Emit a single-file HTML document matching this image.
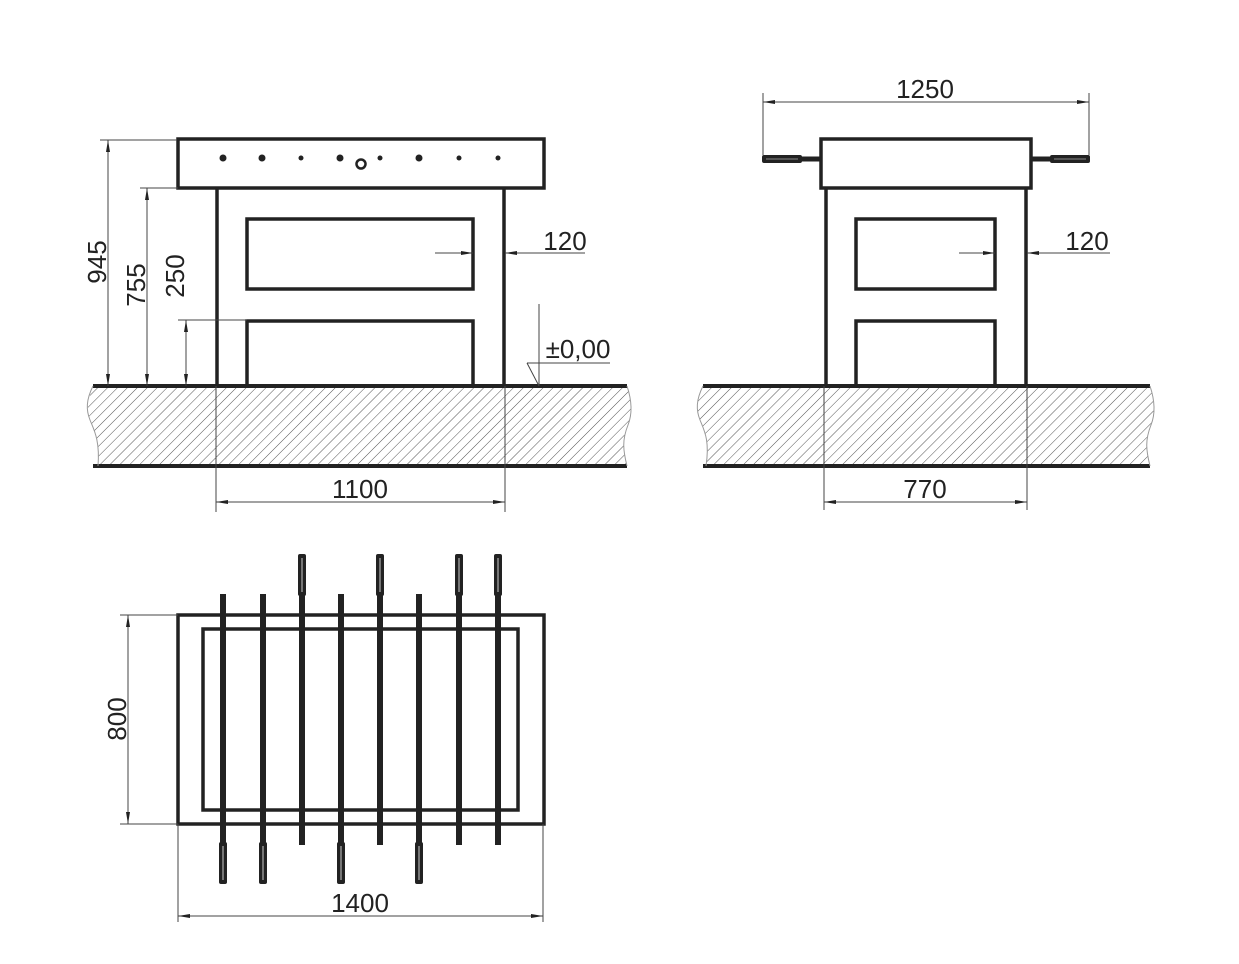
<!DOCTYPE html>
<html><head><meta charset="utf-8"><style>html,body{margin:0;padding:0;background:#fff}svg{display:block}</style></head>
<body>
<svg width="1239" height="964" viewBox="0 0 1239 964" xmlns="http://www.w3.org/2000/svg" font-family="Liberation Sans, Arial, sans-serif">
<defs>
<pattern id="h" width="7" height="7" patternUnits="userSpaceOnUse" patternTransform="rotate(45)">
<line x1="0" y1="0" x2="0" y2="7" stroke="#555" stroke-width="1"/>
</pattern>
<marker id="a" viewBox="0 0 12 6" refX="12" refY="3" markerWidth="12" markerHeight="6" markerUnits="userSpaceOnUse" orient="auto-start-reverse">
<path d="M0,1 L12,3 L0,5 Z" fill="#222"/>
</marker>
</defs>
<g fill="none" stroke="#222">
<path d="M93,386 C88,400 86,410 90,420 C94,430 100,440 98,466 L627,466 C623,450 622,440 628,425 C634,410 630,395 627,386 Z" fill="url(#h)" stroke="none"/>
<line x1="93" y1="386" x2="627" y2="386" stroke-width="4"/>
<line x1="93" y1="466" x2="627" y2="466" stroke-width="4"/>
<path d="M93,386 C86,400 86,410 90,420 C94,430 100,440 98,466" stroke="#999" stroke-width="1"/>
<path d="M627,386 C630,395 634,410 628,425 C622,440 623,450 627,466" stroke="#999" stroke-width="1"/>
<path d="M703,386 C696,400 696,410 700,420 C704,430 710,440 706,466 L1150,466 C1146,450 1145,440 1151,425 C1157,410 1153,395 1150,386 Z" fill="url(#h)" stroke="none"/>
<line x1="703" y1="386" x2="1150" y2="386" stroke-width="4"/>
<line x1="703" y1="466" x2="1150" y2="466" stroke-width="4"/>
<path d="M703,386 C696,400 696,410 700,420 C704,430 710,440 706,466" stroke="#999" stroke-width="1"/>
<path d="M1150,386 C1153,395 1157,410 1151,425 C1145,440 1146,450 1150,466" stroke="#999" stroke-width="1"/>

<rect x="178" y="139" width="366" height="49" stroke-width="3.5" fill="#fff"/>
<line x1="217" y1="188" x2="217" y2="386" stroke-width="3.5"/>
<line x1="504" y1="188" x2="504" y2="386" stroke-width="3.5"/>
<rect x="247" y="219" width="226" height="70" stroke-width="3.5"/>
<path d="M247,386 V321 H473 V386" stroke-width="3.5"/>
<g fill="#222" stroke="none">
<circle cx="223" cy="158" r="3.5"/><circle cx="262" cy="158" r="3.5"/><circle cx="301" cy="158" r="2.5"/>
<circle cx="340" cy="158" r="3.5"/><circle cx="380" cy="158" r="2.5"/><circle cx="419" cy="158" r="3.5"/>
<circle cx="459" cy="158" r="2.5"/><circle cx="498" cy="158" r="2.5"/></g>
<circle cx="361" cy="164" r="4.5" stroke-width="2.5"/>
<g stroke-width="1" stroke="#444">
<line x1="100" y1="140" x2="177" y2="140"/>
<line x1="108" y1="140" x2="108" y2="386" marker-start="url(#a)" marker-end="url(#a)"/>
<line x1="140" y1="188" x2="178" y2="188"/>
<line x1="147" y1="188" x2="147" y2="386" marker-start="url(#a)" marker-end="url(#a)"/>
<line x1="178" y1="320" x2="247" y2="320"/>
<line x1="186" y1="320" x2="186" y2="386" marker-start="url(#a)" marker-end="url(#a)"/>
<line x1="435" y1="253" x2="473" y2="253" marker-end="url(#a)"/>
<line x1="585" y1="253" x2="505" y2="253" marker-end="url(#a)"/>
<line x1="539" y1="304" x2="539" y2="386"/>
<line x1="527" y1="363" x2="610" y2="363"/>
<line x1="527" y1="363" x2="539" y2="386"/>
<line x1="216" y1="386" x2="216" y2="512"/>
<line x1="505" y1="386" x2="505" y2="512"/>
<line x1="216" y1="502" x2="505" y2="502" marker-start="url(#a)" marker-end="url(#a)"/>
</g>

<rect x="821" y="139" width="210" height="49" stroke-width="3.5" fill="#fff"/>
<line x1="826" y1="188" x2="826" y2="386" stroke-width="3.5"/>
<line x1="1026" y1="188" x2="1026" y2="386" stroke-width="3.5"/>
<rect x="856" y="219" width="139" height="70" stroke-width="3.5"/>
<path d="M856,386 V321 H995 V386" stroke-width="3.5"/>
<line x1="800" y1="159" x2="821" y2="159" stroke-width="5"/>
<line x1="1031" y1="159" x2="1052" y2="159" stroke-width="5"/>
<rect x="762" y="155" width="40" height="8" rx="2" fill="#222" stroke="none"/>
<line x1="766" y1="159" x2="798" y2="159" stroke="#888" stroke-width="1"/>
<rect x="1050" y="155" width="40" height="8" rx="2" fill="#222" stroke="none"/>
<line x1="1054" y1="159" x2="1086" y2="159" stroke="#888" stroke-width="1"/>
<g stroke-width="1" stroke="#444">
<line x1="763" y1="93" x2="763" y2="155"/>
<line x1="1089" y1="93" x2="1089" y2="155"/>
<line x1="763" y1="102" x2="1089" y2="102" marker-start="url(#a)" marker-end="url(#a)"/>
<line x1="959" y1="253" x2="995" y2="253" marker-end="url(#a)"/>
<line x1="1110" y1="253" x2="1027" y2="253" marker-end="url(#a)"/>
<line x1="824" y1="386" x2="824" y2="510"/>
<line x1="1027" y1="386" x2="1027" y2="510"/>
<line x1="824" y1="502" x2="1027" y2="502" marker-start="url(#a)" marker-end="url(#a)"/>
</g>

<rect x="178" y="615" width="366" height="209" stroke-width="3.5"/>
<rect x="203" y="629" width="315" height="181" stroke-width="3.5"/>
<g stroke-width="6">
<line x1="223" y1="594" x2="223" y2="845"/><line x1="263" y1="594" x2="263" y2="845"/>
<line x1="302" y1="594" x2="302" y2="845"/><line x1="341" y1="594" x2="341" y2="845"/>
<line x1="380" y1="594" x2="380" y2="845"/><line x1="419" y1="594" x2="419" y2="845"/>
<line x1="459" y1="594" x2="459" y2="845"/><line x1="498" y1="594" x2="498" y2="845"/>
</g>
<g fill="#222" stroke="none">
<rect x="298" y="554" width="8" height="42" rx="2"/><rect x="376" y="554" width="8" height="42" rx="2"/>
<rect x="455" y="554" width="8" height="42" rx="2"/><rect x="494" y="554" width="8" height="42" rx="2"/>
<rect x="219" y="842" width="8" height="42" rx="2"/><rect x="259" y="842" width="8" height="42" rx="2"/>
<rect x="337" y="842" width="8" height="42" rx="2"/><rect x="415" y="842" width="8" height="42" rx="2"/>
</g>
<g stroke="#ccc" stroke-width="1">
<line x1="302" y1="558" x2="302" y2="592"/><line x1="380" y1="558" x2="380" y2="592"/>
<line x1="459" y1="558" x2="459" y2="592"/><line x1="498" y1="558" x2="498" y2="592"/>
<line x1="223" y1="846" x2="223" y2="880"/><line x1="263" y1="846" x2="263" y2="880"/>
<line x1="341" y1="846" x2="341" y2="880"/><line x1="419" y1="846" x2="419" y2="880"/>
</g>
<g stroke-width="1" stroke="#444">
<line x1="120" y1="615" x2="178" y2="615"/>
<line x1="120" y1="824" x2="178" y2="824"/>
<line x1="128" y1="615" x2="128" y2="824" marker-start="url(#a)" marker-end="url(#a)"/>
<line x1="178" y1="824" x2="178" y2="922"/>
<line x1="543" y1="824" x2="543" y2="922"/>
<line x1="178" y1="916" x2="543" y2="916" marker-start="url(#a)" marker-end="url(#a)"/>
</g>
</g>
<g fill="#222" font-size="26">
<text x="106" y="262" text-anchor="middle" transform="rotate(-90 106 262)">945</text>
<text x="145" y="285" text-anchor="middle" transform="rotate(-90 145 285)">755</text>
<text x="184" y="276" text-anchor="middle" transform="rotate(-90 184 276)">250</text>
<text x="565" y="250" text-anchor="middle">120</text>
<text x="578" y="358" text-anchor="middle">±0,00</text>
<text x="360" y="498" text-anchor="middle">1100</text>
<text x="925" y="98" text-anchor="middle">1250</text>
<text x="1087" y="250" text-anchor="middle">120</text>
<text x="925" y="498" text-anchor="middle">770</text>
<text x="126" y="719" text-anchor="middle" transform="rotate(-90 126 719)">800</text>
<text x="360" y="912" text-anchor="middle">1400</text>
</g>
</svg>
</body></html>
